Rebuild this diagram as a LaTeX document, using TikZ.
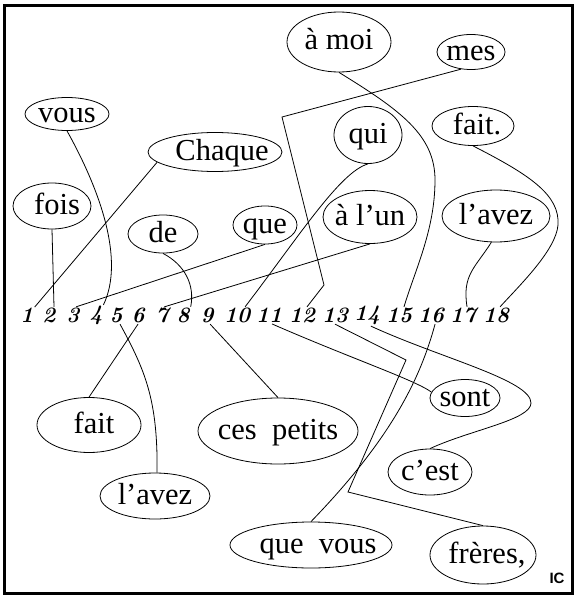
\documentclass[tikz,border=0pt]{standalone}
\usepackage{fontspec}
\usetikzlibrary{shapes.geometric}
\newfontfamily\wordfont{Liberation Serif}
\newfontfamily\icfont{Liberation Sans}

\tikzset{
	word/.style={draw, ellipse, inner sep=0pt, line width=0.8pt},
	wordtext/.style={font=\wordfont\fontsize{30.5}{36}\selectfont, inner sep=0pt, text height=24pt, text depth=8pt},
	num/.style={font=\bfseries\itshape\fontsize{22}{26}\selectfont, inner sep=1pt},
	link/.style={line width=0.8pt}
}

\begin{document}
\begin{tikzpicture}[x=1pt,y=1pt,yscale=-1,xscale=1]
		\useasboundingbox (0,0) rectangle (579,602);

		% Thick frame round the whole diagram
		\draw[line width=3pt] (4.5,6) rectangle (572.5,593.5);

		% The numbered positions of the sentence
		\node[num] (n1) at (27,315.5) {1};
		\node[num] (n2) at (49,315.5) {2};
		\node[num] (n3) at (73,315.5) {3};
		\node[num] (n4) at (96,315.5) {4};
		\node[num] (n5) at (116,315.5) {5};
		\node[num] (n6) at (138,315.5) {6};
		\node[num] (n7) at (162,315.5) {7};
		\node[num] (n8) at (183,315.5) {8};
		\node[num] (n9) at (207,315.5) {9};
		\node[num] (n10) at (237,315.5) {10};
		\node[num] (n11) at (269,315.5) {11};
		\node[num] (n12) at (302,315.5) {12};
		\node[num] (n13) at (335,315.5) {13};
		\node[num] (n14) at (367,315.5) {14};
		\node[num] (n15) at (399,315.5) {15};
		\node[num] (n16) at (431,315.5) {16};
		\node[num] (n17) at (463,315.5) {17};
		\node[num] (n18) at (496,315.5) {18};

		% Words above the numbers
		\node[word, minimum width=84pt, minimum height=33pt, label={[wordtext]center:vous}] (vous) at (67,114) {};
		\node[word, minimum width=134pt, minimum height=39pt, label={[wordtext, xshift=7pt]center:Chaque}] (chaque) at (215,152) {};
		\node[word, minimum width=78pt, minimum height=46pt, label={[wordtext, xshift=5pt]center:fois}] (fois) at (52,206) {};
		\node[word, minimum width=70pt, minimum height=38pt, label={[wordtext]center:de}] (de) at (163,234) {};
		\node[word, minimum width=64pt, minimum height=38pt, label={[wordtext]center:que}] (que) at (265,225) {};
		\node[word, minimum width=104pt, minimum height=60pt, label={[wordtext]center:à moi}] (amoi) at (339,42) {};
		\node[word, minimum width=68pt, minimum height=35pt, label={[wordtext]center:mes}] (mes) at (471,52) {};
		\node[word, minimum width=68pt, minimum height=57pt, label={[wordtext]center:qui}] (qui) at (368,135) {};
		\node[word, minimum width=82pt, minimum height=39pt, label={[wordtext, xshift=4pt]center:fait.}] (faitdot) at (473,126) {};
		\node[word, minimum width=94pt, minimum height=53pt, label={[wordtext]center:à l’un}] (alun) at (370,217) {};
		\node[word, minimum width=108pt, minimum height=52pt, label={[wordtext]center:l’avez}] (lavezA) at (496,216) {};

		% Words below the numbers
		\node[word, minimum width=104pt, minimum height=55pt, label={[wordtext, xshift=5pt]center:fait}] (fait) at (89,425) {};
		\node[word, minimum width=160pt, minimum height=66pt, label={[wordtext]center:ces~~petits}] (cespetits) at (278,431) {};
		\node[word, minimum width=110pt, minimum height=46pt, label={[wordtext]center:l’avez}] (lavezB) at (155,496) {};
		\node[word, minimum width=162pt, minimum height=46pt, label={[wordtext, xshift=7pt]center:que~~vous}] (quevous) at (311,545) {};
		\node[word, minimum width=70pt, minimum height=37pt, label={[wordtext]center:sont}] (sont) at (465,398) {};
		\node[word, minimum width=84pt, minimum height=46pt, label={[wordtext]center:c’est}] (cest) at (430,472) {};
		\node[word, minimum width=106pt, minimum height=58pt, label={[wordtext, xshift=4pt]center:frères,}] (freres) at (483,555) {};

		% Links from each word to its position
		\draw[link] (chaque.190) -- (n1.north east);
		\draw[link] (fois.south) -- (n2.60);
		\draw[link] (que.south) -- (n3.70);
		\draw[link] (vous.south) .. controls (100,190) and (125,260) .. (n4.55);
		\draw[link] (n5.295) .. controls (145,370) and (158,400) .. (lavezB.85);
		\draw[link] (n6.south) -- (fait.north);
		\draw[link] (alun.south) -- (n7.75);
		\draw[link] (de.south) .. controls (185,265) and (195,285) .. (n8.north east);
		\draw[link] (n9.290) -- (cespetits.north);
		\draw[link] (qui.south) .. controls (340,172) and (300,235) .. (n10.47);
		\draw[link] (n11.290) .. controls (350,358) and (415,380) .. (sont.170);
		\draw[link] (mes.240) -- (282,117) -- (324,285) -- (n12.60);
		\draw[link] (n13.south) -- (406,360) -- (348,492) -- (freres.north);
		\draw[link] (n14.290) .. controls (440,358) and (531,380) .. (531,403) .. controls (531,420) and (470,430) .. (cest.north);
		\draw[link] (amoi.south) .. controls (400,110) and (435,135) .. (435,180) .. controls (435,230) and (415,270) .. (n15.60);
		\draw[link] (n16.295) .. controls (420,380) and (390,440) .. (quevous.north);
		\draw[link] (lavezA.260) .. controls (475,268) and (462,275) .. (n17.65);
		\draw[link] (faitdot.south) .. controls (530,175) and (560,195) .. (558,225) .. controls (556,250) and (520,285) .. (n18.65);

		% Initials in the corner
		\node[font=\icfont\bfseries\fontsize{15}{18}\selectfont, inner sep=0pt] (ic) at (557,578) {IC};
	\end{tikzpicture}
\end{document}
